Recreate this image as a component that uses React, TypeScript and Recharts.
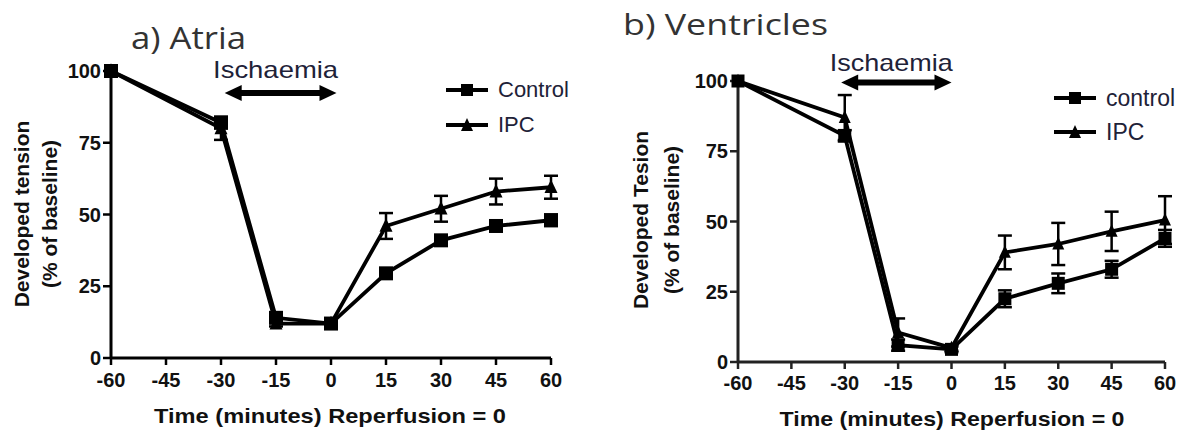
import React from 'react'
import { LineChart, Line, XAxis, YAxis, ErrorBar, ReferenceLine, Legend, Label } from 'recharts'

// time points (minutes, reperfusion = 0)
const times = [-60, -30, -15, 0, 15, 30, 45, 60]
const xTicks = [-60, -45, -30, -15, 0, 15, 30, 45, 60]
const yTicks = [0, 25, 50, 75, 100]

// a) Atria
const atriaControl = [100, 82, 14, 12, 29.5, 41, 46, 48]
const atriaControlErr = [0, 2, 1.5, 1, 1.5, 1.5, 1.5, 2]
const atriaIpc = [100, 80, 12, 12, 46, 52, 58, 59.5]
const atriaIpcErr = [0, 4, 1, 1, 4.5, 4.5, 4.5, 4]

// b) Ventricles
const ventControl = [100, 80.5, 6, 4.5, 22.5, 28, 33, 44]
const ventControlErr = [0, 2, 2, 1, 3, 3.5, 3, 3]
const ventIpc = [100, 87, 10.5, 5, 39, 42, 46.5, 50.5]
const ventIpcErr = [0, 8, 5, 1, 6, 7.5, 7, 8.5]

const FONT = '"Liberation Sans", Arial, sans-serif'
const TEXT_COLOR = '#1e2238'

const buildRows = (control: number[], controlErr: number[], ipc: number[], ipcErr: number[]) =>
  times.map((t, i) => ({
    t,
    control: control[i],
    controlErr: controlErr[i],
    ipc: ipc[i],
    ipcErr: ipcErr[i],
  }))

const squareDot = (size: number) => (p: any) => (
  <rect key={`s${p.index}`} x={p.cx - size / 2} y={p.cy - size / 2} width={size} height={size} fill="#000" />
)

const triangleDot = (size: number) => (p: any) => (
  <polygon
    key={`t${p.index}`}
    points={`${p.cx},${p.cy - size * 0.6} ${p.cx - size / 2},${p.cy + size * 0.45} ${p.cx + size / 2},${p.cy + size * 0.45}`}
    fill="#000"
  />
)

const arrowShape = (label: string, textGap: number, textW: number) => (p: any) => {
  const { x1, x2, y1 } = p
  const y = y1
  const head = 17
  const cx = (x1 + x2) / 2 - 5
  return (
    <g>
      <line x1={x1 + head - 2} x2={x2 - head + 2} y1={y} y2={y} stroke="#000" strokeWidth={6} />
      <polygon points={`${x1},${y} ${x1 + head},${y - 8} ${x1 + head},${y + 8}`} fill="#000" />
      <polygon points={`${x2},${y} ${x2 - head},${y - 8} ${x2 - head},${y + 8}`} fill="#000" />
      <text
        x={cx - textW / 2}
        y={y - textGap}
        fontFamily={FONT}
        fontSize={24}
        fill={TEXT_COLOR}
        textLength={textW}
        lengthAdjust="spacingAndGlyphs"
      >
        {label}
      </text>
    </g>
  )
}

const legendContent = (labels: string[], rowH: number, fontSize: number) => () => (
  <div style={{ fontFamily: FONT, fontSize, color: TEXT_COLOR }}>
    {labels.map((l, i) => (
      <div key={l} style={{ display: 'flex', alignItems: 'center', height: rowH }}>
        <svg width={42} height={16} style={{ display: 'block' }}>
          <line x1={0} x2={42} y1={8} y2={8} stroke="#000" strokeWidth={4} />
          {i === 0 ? (
            <rect x={15} y={2} width={12} height={12} fill="#000" />
          ) : (
            <polygon points="21,1 15,14 27,14" fill="#000" />
          )}
        </svg>
        <span style={{ marginLeft: 10, lineHeight: 1 }}>{l}</span>
      </div>
    ))}
  </div>
)

const yLabel = (lines: string[], bx: number, cy: number, gap: number) => () => (
  <text
    transform={`rotate(-90 ${bx} ${cy})`}
    x={bx}
    y={cy}
    textAnchor="middle"
    fontFamily={FONT}
    fontWeight="bold"
    fontSize={21}
    fill="#111"
  >
    <tspan x={bx} dy={0}>{lines[0]}</tspan>
    <tspan x={bx} dy={gap}>{lines[1]}</tspan>
  </text>
)

const xLabel = (text: string, cx: number, baseline: number, w: number) => () => (
  <text
    x={cx - w / 2}
    y={baseline}
    fontFamily={FONT}
    fontWeight="bold"
    fontSize={21}
    fill="#111"
    textLength={w}
    lengthAdjust="spacingAndGlyphs"
  >
    {text}
  </text>
)

interface PanelProps {
  left: number
  width: number
  margin: { top: number; right: number; bottom: number; left: number }
  yAxisWidth: number
  xAxisHeight: number
  rows: any[]
  legendLabels: string[]
  legendPos: { left: number; top: number; rowH: number; fontSize: number }
  arrow: { x: number[]; y: number; gap: number; textW: number }
  yTitle: string[]
  yTitlePos: { bx: number; cy: number; gap: number }
  xTitlePos: { cx: number; baseline: number; w: number }
  tickMargin: number
  markerSize: number
  axisStroke: string
}

function Panel(p: PanelProps) {
  const tickStyle = { fill: '#111', fontSize: 20, fontWeight: 'bold', fontFamily: FONT }
  return (
    <div style={{ position: 'absolute', left: p.left, top: 0 }}>
      <LineChart width={p.width} height={432} data={p.rows} margin={p.margin}>
        <XAxis
          dataKey="t"
          type="number"
          domain={[-60, 60]}
          ticks={xTicks}
          height={p.xAxisHeight}
          tick={tickStyle}
          tickSize={7}
          tickMargin={p.tickMargin}
          axisLine={{ stroke: p.axisStroke, strokeWidth: 3 }}
          tickLine={{ stroke: p.axisStroke, strokeWidth: 2.5 }}
        >
          <Label content={xLabel('Time (minutes) Reperfusion = 0', p.xTitlePos.cx, p.xTitlePos.baseline, p.xTitlePos.w)} />
        </XAxis>
        <YAxis
          type="number"
          domain={[0, 100]}
          ticks={yTicks}
          width={p.yAxisWidth}
          tick={tickStyle}
          tickSize={8}
          tickMargin={2}
          axisLine={{ stroke: p.axisStroke, strokeWidth: 3 }}
          tickLine={{ stroke: p.axisStroke, strokeWidth: 2.5 }}
        >
          <Label content={yLabel(p.yTitle, p.yTitlePos.bx, p.yTitlePos.cy, p.yTitlePos.gap)} />
        </YAxis>
        <ReferenceLine
          segment={[
            { x: p.arrow.x[0], y: p.arrow.y },
            { x: p.arrow.x[1], y: p.arrow.y },
          ]}
          ifOverflow="visible"
          shape={arrowShape('Ischaemia', p.arrow.gap, p.arrow.textW)}
        />
        <Line
          dataKey="control"
          stroke="#000"
          strokeWidth={3.8}
          dot={squareDot(p.markerSize)}
          activeDot={false}
          isAnimationActive={false}
        >
          <ErrorBar dataKey="controlErr" direction="y" width={7} strokeWidth={2.5} stroke="#000" isAnimationActive={false} />
        </Line>
        <Line
          dataKey="ipc"
          stroke="#000"
          strokeWidth={3.8}
          dot={triangleDot(p.markerSize - 1)}
          activeDot={false}
          isAnimationActive={false}
        >
          <ErrorBar dataKey="ipcErr" direction="y" width={7} strokeWidth={2.5} stroke="#000" isAnimationActive={false} />
        </Line>
        <Legend
          layout="horizontal"
          verticalAlign="middle"
          align="center"
          wrapperStyle={{ left: p.legendPos.left, top: p.legendPos.top, width: 'auto', height: 'auto' }}
          content={legendContent(p.legendLabels, p.legendPos.rowH, p.legendPos.fontSize)}
        />
      </LineChart>
    </div>
  )
}

export default function App() {
  return (
    <div style={{ position: 'absolute', left: 0, top: 0, width: 1186, height: 432, background: '#fff', overflow: 'hidden' }}>
      <Panel
        left={0}
        width={590}
        margin={{ top: 71, right: 39, bottom: 0, left: 0 }}
        yAxisWidth={111}
        xAxisHeight={74}
        rows={buildRows(atriaControl, atriaControlErr, atriaIpc, atriaIpcErr)}
        legendLabels={['Control', 'IPC']}
        legendPos={{ left: 446, top: 72, rowH: 35, fontSize: 22 }}
        arrow={{ x: [-29, 1.5], y: 92.3, gap: 15, textW: 125 }}
        yTitle={['Developed tension', '(% of baseline)']}
        yTitlePos={{ bx: 29, cy: 214, gap: 28 }}
        xTitlePos={{ cx: 330, baseline: 423, w: 352 }}
        tickMargin={8}
        markerSize={14}
        axisStroke="#000"
      />
      <Panel
        left={620}
        width={566}
        margin={{ top: 81, right: 21, bottom: 0, left: 0 }}
        yAxisWidth={118}
        xAxisHeight={70}
        rows={buildRows(ventControl, ventControlErr, ventIpc, ventIpcErr)}
        legendLabels={['control', 'IPC']}
        legendPos={{ left: 434, top: 81, rowH: 34, fontSize: 23 }}
        arrow={{ x: [-31, 0], y: 99.5, gap: 11, textW: 123 }}
        yTitle={['Developed Tesion', '(% of baseline)']}
        yTitlePos={{ bx: 28, cy: 220, gap: 31 }}
        xTitlePos={{ cx: 332, baseline: 426, w: 345 }}
        tickMargin={7}
        markerSize={13}
        axisStroke="#222"
      />
      <svg width={1186} height={432} style={{ position: 'absolute', left: 0, top: 0, pointerEvents: 'none' }}>
        <text x={131} y={49} fontFamily='"Open Sans", sans-serif' fontSize={31} fill="#333" textLength={115} lengthAdjust="spacingAndGlyphs">
          a) Atria
        </text>
        <text x={623} y={35} fontFamily='"Open Sans", sans-serif' fontSize={29} fill="#333" textLength={205} lengthAdjust="spacingAndGlyphs">
          b) Ventricles
        </text>
      </svg>
    </div>
  )
}
